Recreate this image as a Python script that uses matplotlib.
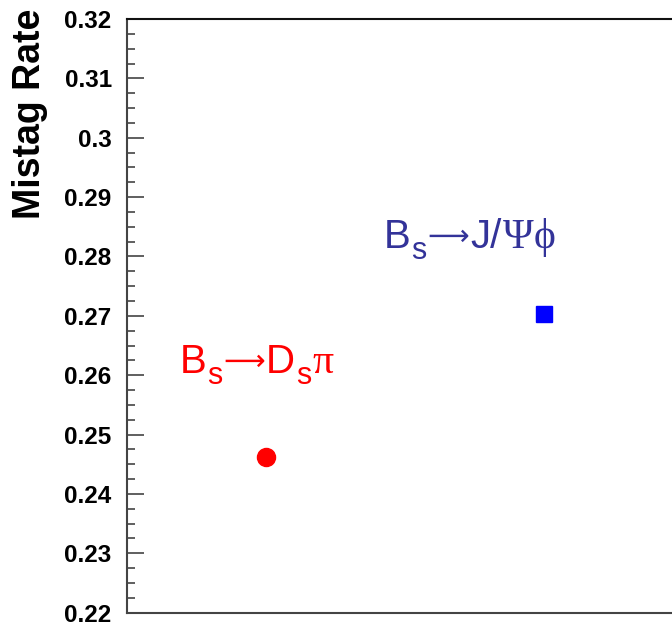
import matplotlib
matplotlib.use("Agg")
import matplotlib.pyplot as plt
from matplotlib.ticker import MultipleLocator, FormatStrFormatter

plt.rcParams['font.family'] = ['Liberation Sans', 'DejaVu Sans']

# data
x_pos = [1, 2]
mistag = [0.2462, 0.2703]
colors = ['#ff0000', '#0000ff']
label_colors = ['#ff0000', '#333399']
markers = ['o', 's']
# channel labels as (text, style) pieces: 'n' normal, 's' subscript, 'a' arrow, 'g' greek
label_pieces = [
    [("B", 'n'), ("s", 's'), ("\u27f6", 'a'), ("D", 'n'), ("s", 's'), ("\u03c0", 'g')],
    [("B", 'n'), ("s", 's'), ("\u27f6", 'a'), ("J/", 'n'), ("\u03a8", 'g'), ("\u03d5", 'g')],
]
label_anchor = [(0.69, 0.2604), (1.424, 0.2815)]

fig = plt.figure(figsize=(6.72, 6.22), dpi=100)
ax = fig.add_axes([127/672, 1 - 612.7/622, (683-127)/672, (612.7-19)/622])

for x, y, c, m in zip(x_pos, mistag, colors, markers):
    ax.plot([x], [y], marker=m, color=c, markersize=13 if m == 'o' else 12, linestyle='none')

ax.set_xlim(0.5, 2.5)
ax.set_ylim(0.22, 0.32)
ax.yaxis.set_major_locator(MultipleLocator(0.01))
ax.yaxis.set_minor_locator(MultipleLocator(0.0025))
ax.yaxis.set_major_formatter(FormatStrFormatter('%g'))
ax.set_xticks([])
ax.tick_params(axis='y', which='major', direction='in', length=12, width=1.2, color='#444444',
               labelsize=17.5, pad=11)
ax.tick_params(axis='y', which='minor', direction='in', length=6, width=1.2, color='#444444')
for lab in ax.get_yticklabels():
    lab.set_fontweight('bold')
ax.spines['right'].set_visible(False)
ax.spines['left'].set_color('#444444')
ax.spines['bottom'].set_color('#444444')
ax.spines['top'].set_color('#111111')
for s in ax.spines.values():
    s.set_linewidth(1.5)

fig.text(30/672, 1 - 114/622, 'Mistag Rate', rotation=90, ha='center', va='center',
         fontsize=27, fontweight='bold')

styles = {
    'n': dict(fontsize=29, family=['Liberation Sans', 'DejaVu Sans'], dy=0, gap=1),
    's': dict(fontsize=22, family=['Liberation Sans', 'DejaVu Sans'], dy=-11, gap=1),
    'a': dict(fontsize=21, family=['DejaVu Sans'], dy=3, gap=0.5),
    'g': dict(fontsize=30, family=['Liberation Serif', 'DejaVu Serif'], dy=0, gap=1),
}

renderer = fig.canvas.get_renderer()
for pieces, (ax0, ay0), col in zip(label_pieces, label_anchor, label_colors):
    dx = 0.0
    for txt, st in pieces:
        s = styles[st]
        t = ax.annotate(txt, xy=(ax0, ay0), xycoords='data', xytext=(dx, s['dy']),
                        textcoords='offset pixels', ha='left', va='baseline',
                        color=col, fontsize=s['fontsize'], family=s['family'])
        bb = t.get_window_extent(renderer)
        dx += bb.width + s['gap']

fig.savefig('out.png', dpi=100)
